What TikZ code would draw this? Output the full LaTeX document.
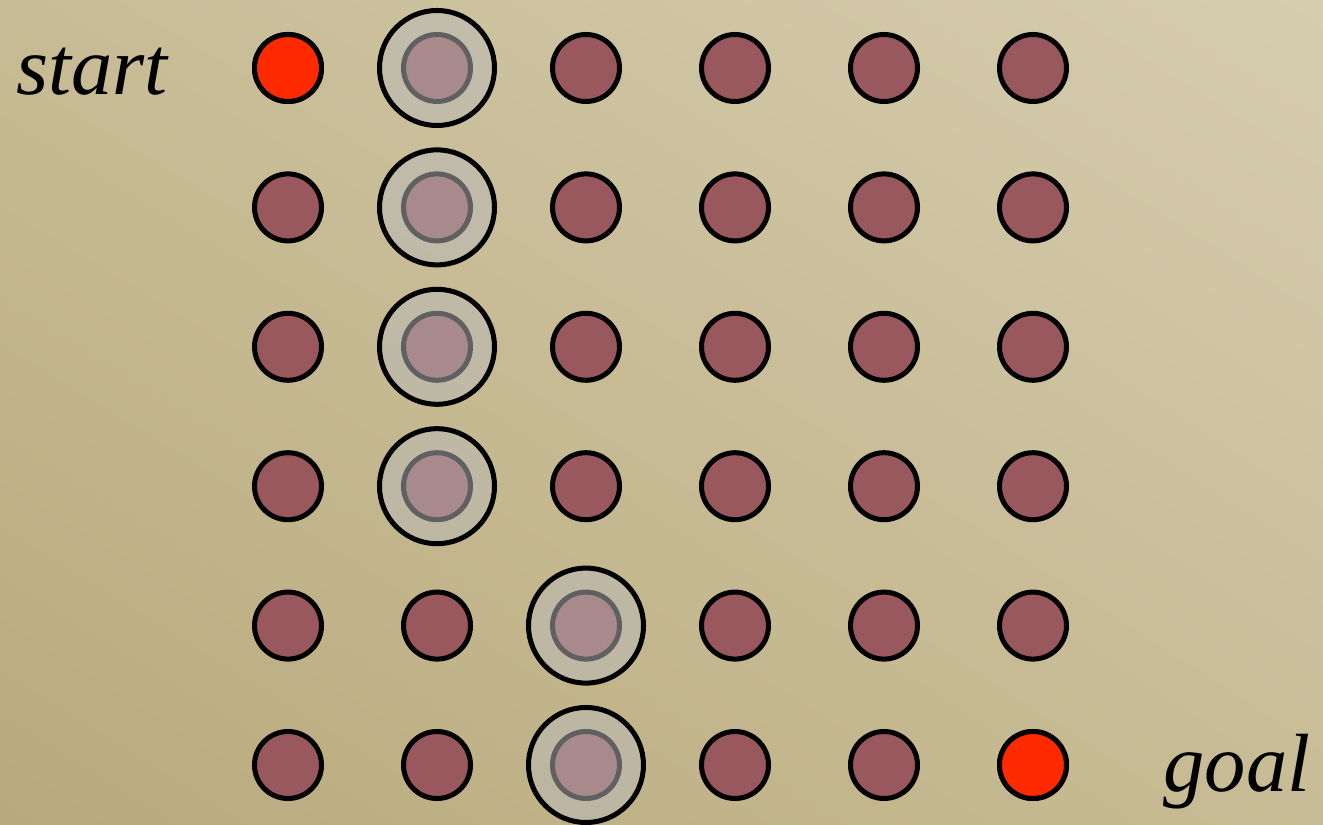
\documentclass[tikz,border=0pt]{standalone}
\usepackage{fontspec}
\setmainfont{Liberation Serif}
\usetikzlibrary{positioning, shadings}

\definecolor{bgdark}{RGB}{185,170,125}
\definecolor{bglight}{RGB}{214,205,175}
\definecolor{bgmid}{RGB}{199,188,149}
\definecolor{dotfill}{RGB}{152,88,93}
\definecolor{hotfill}{RGB}{255,42,0}
\definecolor{ringfill}{RGB}{185,185,185}

\tikzset{
  dot/.style={circle, draw=black, line width=5pt*0.57, fill=dotfill, minimum size=67*0.02cm, inner sep=0pt},
  hotdot/.style={dot, fill=hotfill},
  ring/.style={circle, draw=black, line width=5pt*0.57, fill=ringfill, fill opacity=0.52, minimum size=115*0.02cm, inner sep=0pt},
  label/.style={font=\fontsize{47}{56}\selectfont\itshape, inner sep=0pt, anchor=base}
}

\begin{document}
\begin{tikzpicture}[x=0.02cm, y=0.02cm]
    % Background
    \useasboundingbox (0,0) rectangle (1323,825);
    \shade[lower left=bgdark, upper right=bglight, upper left=bgmid, lower right=bgmid] (0,0) rectangle (1323,825);

    % Grid of states
    \foreach \i in {1,...,6} {
        \foreach \j in {1,...,6} {
            \node[dot] (c-\i-\j) at ({288+149*(\i-1)}, {757-139.4*(\j-1)}) {};
        }
    }

    % Start and goal states
    \node[hotdot] at (c-1-1) {};
    \node[hotdot] at (c-6-6) {};

    % Path marked by rings
    \foreach \i/\j in {2/1, 2/2, 2/3, 2/4, 3/5, 3/6} {
        \node[ring] (r-\i-\j) at (c-\i-\j) {};
    }

    % Labels
    \node[label] (start) at (92,730) {start};
    \node[label] (goal) at (1237,33) {goal};
\end{tikzpicture}
\end{document}
